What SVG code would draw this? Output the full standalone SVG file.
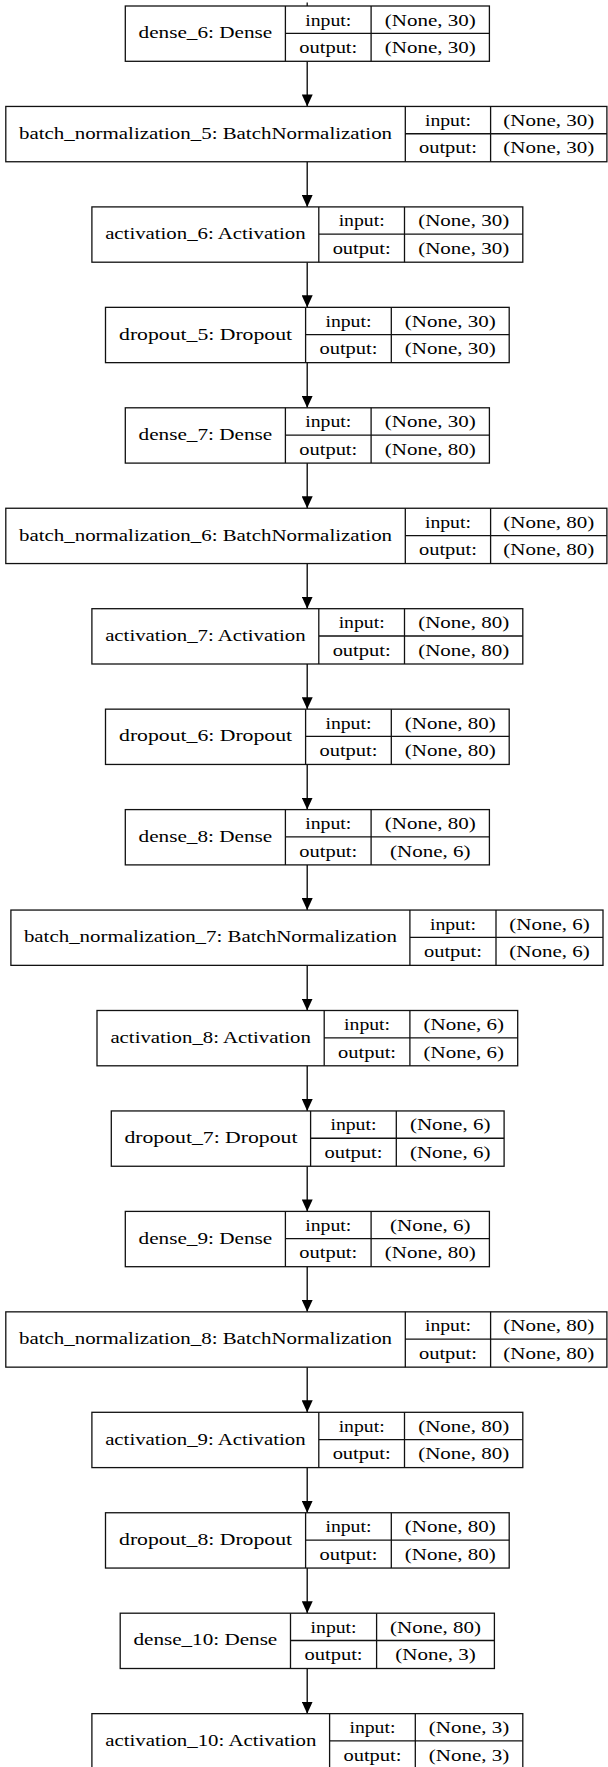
<svg xmlns="http://www.w3.org/2000/svg" width="608" height="1767" viewBox="0 0 608 1767">
<style>
.box{fill:#fff;stroke:#111;stroke-width:1.3}
.ln{stroke:#111;stroke-width:1.3;fill:none}
text{font-family:"Liberation Serif","Times New Roman",serif;font-size:16px;fill:#000;text-anchor:middle}
.edge{stroke:#000;stroke-width:1.3;fill:none;marker-end:url(#arr)}
</style>
<defs>
<marker id="arr" viewBox="0 0 12 11" refX="12" refY="5.5" markerWidth="12" markerHeight="11" markerUnits="userSpaceOnUse" orient="auto">
<path d="M0,0 L12,5.5 L0,11 z" fill="#000"/>
</marker>
</defs>
<rect width="608" height="1767" fill="#fff"/>
<g id="edges">
<line class="ln" x1="307.2" y1="2.5" x2="307.2" y2="6"/>
<line class="edge" x1="307.2" y1="61.3" x2="307.2" y2="106.45"/>
<line class="edge" x1="307.2" y1="161.75" x2="307.2" y2="206.9"/>
<line class="edge" x1="307.2" y1="262.2" x2="307.2" y2="307.35"/>
<line class="edge" x1="307.2" y1="362.65" x2="307.2" y2="407.8"/>
<line class="edge" x1="307.2" y1="463.1" x2="307.2" y2="508.25"/>
<line class="edge" x1="307.2" y1="563.55" x2="307.2" y2="608.7"/>
<line class="edge" x1="307.2" y1="664" x2="307.2" y2="709.15"/>
<line class="edge" x1="307.2" y1="764.45" x2="307.2" y2="809.6"/>
<line class="edge" x1="307.2" y1="864.9" x2="307.2" y2="910.05"/>
<line class="edge" x1="307.2" y1="965.35" x2="307.2" y2="1010.5"/>
<line class="edge" x1="307.2" y1="1065.8" x2="307.2" y2="1110.95"/>
<line class="edge" x1="307.2" y1="1166.25" x2="307.2" y2="1211.4"/>
<line class="edge" x1="307.2" y1="1266.7" x2="307.2" y2="1311.85"/>
<line class="edge" x1="307.2" y1="1367.15" x2="307.2" y2="1412.3"/>
<line class="edge" x1="307.2" y1="1467.6" x2="307.2" y2="1512.75"/>
<line class="edge" x1="307.2" y1="1568.05" x2="307.2" y2="1613.2"/>
<line class="edge" x1="307.2" y1="1668.5" x2="307.2" y2="1713.65"/>
</g>

<g id="dense_6" transform="translate(0,6)">
<rect class="box" x="125.3" y="0" width="364.1" height="55.3"/>
<path class="ln" d="M285.4,0V55.3M371.1,0V55.3M285.4,27.3H489.4"/>
<text x="205.35" y="32.3" textLength="133.6" lengthAdjust="spacingAndGlyphs">dense_6: Dense</text>
<text x="328.25" y="19.5" textLength="46" lengthAdjust="spacingAndGlyphs">input:</text>
<text x="328.25" y="47" textLength="58" lengthAdjust="spacingAndGlyphs">output:</text>
<text x="430.25" y="19.5" textLength="91" lengthAdjust="spacingAndGlyphs">(None, 30)</text>
<text x="430.25" y="47" textLength="91" lengthAdjust="spacingAndGlyphs">(None, 30)</text>
</g>

<g id="batch_normalization_5" transform="translate(0,106.45)">
<rect class="box" x="5.8" y="0" width="601.1" height="55.3"/>
<path class="ln" d="M405.3,0V55.3M490.6,0V55.3M405.3,27.3H606.9"/>
<text x="205.55" y="32.3" textLength="373" lengthAdjust="spacingAndGlyphs">batch_normalization_5: BatchNormalization</text>
<text x="447.95" y="19.5" textLength="46" lengthAdjust="spacingAndGlyphs">input:</text>
<text x="447.95" y="47" textLength="58" lengthAdjust="spacingAndGlyphs">output:</text>
<text x="548.75" y="19.5" textLength="91" lengthAdjust="spacingAndGlyphs">(None, 30)</text>
<text x="548.75" y="47" textLength="91" lengthAdjust="spacingAndGlyphs">(None, 30)</text>
</g>

<g id="activation_6" transform="translate(0,206.9)">
<rect class="box" x="91.9" y="0" width="430.9" height="55.3"/>
<path class="ln" d="M318.8,0V55.3M404.5,0V55.3M318.8,27.3H522.8"/>
<text x="205.35" y="32.3" textLength="200.4" lengthAdjust="spacingAndGlyphs">activation_6: Activation</text>
<text x="361.65" y="19.5" textLength="46" lengthAdjust="spacingAndGlyphs">input:</text>
<text x="361.65" y="47" textLength="58" lengthAdjust="spacingAndGlyphs">output:</text>
<text x="463.65" y="19.5" textLength="91" lengthAdjust="spacingAndGlyphs">(None, 30)</text>
<text x="463.65" y="47" textLength="91" lengthAdjust="spacingAndGlyphs">(None, 30)</text>
</g>

<g id="dropout_5" transform="translate(0,307.35)">
<rect class="box" x="105.5" y="0" width="403.7" height="55.3"/>
<path class="ln" d="M305.6,0V55.3M391.3,0V55.3M305.6,27.3H509.2"/>
<text x="205.55" y="32.3" textLength="173" lengthAdjust="spacingAndGlyphs">dropout_5: Dropout</text>
<text x="348.45" y="19.5" textLength="46" lengthAdjust="spacingAndGlyphs">input:</text>
<text x="348.45" y="47" textLength="58" lengthAdjust="spacingAndGlyphs">output:</text>
<text x="450.25" y="19.5" textLength="91" lengthAdjust="spacingAndGlyphs">(None, 30)</text>
<text x="450.25" y="47" textLength="91" lengthAdjust="spacingAndGlyphs">(None, 30)</text>
</g>

<g id="dense_7" transform="translate(0,407.8)">
<rect class="box" x="125.3" y="0" width="364.1" height="55.3"/>
<path class="ln" d="M285.4,0V55.3M371.1,0V55.3M285.4,27.3H489.4"/>
<text x="205.35" y="32.3" textLength="133.6" lengthAdjust="spacingAndGlyphs">dense_7: Dense</text>
<text x="328.25" y="19.5" textLength="46" lengthAdjust="spacingAndGlyphs">input:</text>
<text x="328.25" y="47" textLength="58" lengthAdjust="spacingAndGlyphs">output:</text>
<text x="430.25" y="19.5" textLength="91" lengthAdjust="spacingAndGlyphs">(None, 30)</text>
<text x="430.25" y="47" textLength="91" lengthAdjust="spacingAndGlyphs">(None, 80)</text>
</g>

<g id="batch_normalization_6" transform="translate(0,508.25)">
<rect class="box" x="5.8" y="0" width="601.1" height="55.3"/>
<path class="ln" d="M405.3,0V55.3M490.6,0V55.3M405.3,27.3H606.9"/>
<text x="205.55" y="32.3" textLength="373" lengthAdjust="spacingAndGlyphs">batch_normalization_6: BatchNormalization</text>
<text x="447.95" y="19.5" textLength="46" lengthAdjust="spacingAndGlyphs">input:</text>
<text x="447.95" y="47" textLength="58" lengthAdjust="spacingAndGlyphs">output:</text>
<text x="548.75" y="19.5" textLength="91" lengthAdjust="spacingAndGlyphs">(None, 80)</text>
<text x="548.75" y="47" textLength="91" lengthAdjust="spacingAndGlyphs">(None, 80)</text>
</g>

<g id="activation_7" transform="translate(0,608.7)">
<rect class="box" x="91.9" y="0" width="430.9" height="55.3"/>
<path class="ln" d="M318.8,0V55.3M404.5,0V55.3M318.8,27.3H522.8"/>
<text x="205.35" y="32.3" textLength="200.4" lengthAdjust="spacingAndGlyphs">activation_7: Activation</text>
<text x="361.65" y="19.5" textLength="46" lengthAdjust="spacingAndGlyphs">input:</text>
<text x="361.65" y="47" textLength="58" lengthAdjust="spacingAndGlyphs">output:</text>
<text x="463.65" y="19.5" textLength="91" lengthAdjust="spacingAndGlyphs">(None, 80)</text>
<text x="463.65" y="47" textLength="91" lengthAdjust="spacingAndGlyphs">(None, 80)</text>
</g>

<g id="dropout_6" transform="translate(0,709.15)">
<rect class="box" x="105.5" y="0" width="403.7" height="55.3"/>
<path class="ln" d="M305.6,0V55.3M391.3,0V55.3M305.6,27.3H509.2"/>
<text x="205.55" y="32.3" textLength="173" lengthAdjust="spacingAndGlyphs">dropout_6: Dropout</text>
<text x="348.45" y="19.5" textLength="46" lengthAdjust="spacingAndGlyphs">input:</text>
<text x="348.45" y="47" textLength="58" lengthAdjust="spacingAndGlyphs">output:</text>
<text x="450.25" y="19.5" textLength="91" lengthAdjust="spacingAndGlyphs">(None, 80)</text>
<text x="450.25" y="47" textLength="91" lengthAdjust="spacingAndGlyphs">(None, 80)</text>
</g>

<g id="dense_8" transform="translate(0,809.6)">
<rect class="box" x="125.3" y="0" width="364.1" height="55.3"/>
<path class="ln" d="M285.4,0V55.3M371.1,0V55.3M285.4,27.3H489.4"/>
<text x="205.35" y="32.3" textLength="133.6" lengthAdjust="spacingAndGlyphs">dense_8: Dense</text>
<text x="328.25" y="19.5" textLength="46" lengthAdjust="spacingAndGlyphs">input:</text>
<text x="328.25" y="47" textLength="58" lengthAdjust="spacingAndGlyphs">output:</text>
<text x="430.25" y="19.5" textLength="91" lengthAdjust="spacingAndGlyphs">(None, 80)</text>
<text x="430.25" y="47" textLength="80.5" lengthAdjust="spacingAndGlyphs">(None, 6)</text>
</g>

<g id="batch_normalization_7" transform="translate(0,910.05)">
<rect class="box" x="10.9" y="0" width="592.1" height="55.3"/>
<path class="ln" d="M409.9,0V55.3M496,0V55.3M409.9,27.3H603"/>
<text x="210.4" y="32.3" textLength="373" lengthAdjust="spacingAndGlyphs">batch_normalization_7: BatchNormalization</text>
<text x="452.95" y="19.5" textLength="46" lengthAdjust="spacingAndGlyphs">input:</text>
<text x="452.95" y="47" textLength="58" lengthAdjust="spacingAndGlyphs">output:</text>
<text x="549.5" y="19.5" textLength="80.5" lengthAdjust="spacingAndGlyphs">(None, 6)</text>
<text x="549.5" y="47" textLength="80.5" lengthAdjust="spacingAndGlyphs">(None, 6)</text>
</g>

<g id="activation_8" transform="translate(0,1010.5)">
<rect class="box" x="97" y="0" width="420.7" height="55.3"/>
<path class="ln" d="M324.2,0V55.3M409.9,0V55.3M324.2,27.3H517.7"/>
<text x="210.6" y="32.3" textLength="200.4" lengthAdjust="spacingAndGlyphs">activation_8: Activation</text>
<text x="367.05" y="19.5" textLength="46" lengthAdjust="spacingAndGlyphs">input:</text>
<text x="367.05" y="47" textLength="58" lengthAdjust="spacingAndGlyphs">output:</text>
<text x="463.8" y="19.5" textLength="80.5" lengthAdjust="spacingAndGlyphs">(None, 6)</text>
<text x="463.8" y="47" textLength="80.5" lengthAdjust="spacingAndGlyphs">(None, 6)</text>
</g>

<g id="dropout_7" transform="translate(0,1110.95)">
<rect class="box" x="111.3" y="0" width="392.8" height="55.3"/>
<path class="ln" d="M310.6,0V55.3M396.3,0V55.3M310.6,27.3H504.1"/>
<text x="210.95" y="32.3" textLength="173" lengthAdjust="spacingAndGlyphs">dropout_7: Dropout</text>
<text x="353.45" y="19.5" textLength="46" lengthAdjust="spacingAndGlyphs">input:</text>
<text x="353.45" y="47" textLength="58" lengthAdjust="spacingAndGlyphs">output:</text>
<text x="450.2" y="19.5" textLength="80.5" lengthAdjust="spacingAndGlyphs">(None, 6)</text>
<text x="450.2" y="47" textLength="80.5" lengthAdjust="spacingAndGlyphs">(None, 6)</text>
</g>

<g id="dense_9" transform="translate(0,1211.4)">
<rect class="box" x="125.3" y="0" width="364.1" height="55.3"/>
<path class="ln" d="M285.4,0V55.3M371.1,0V55.3M285.4,27.3H489.4"/>
<text x="205.35" y="32.3" textLength="133.6" lengthAdjust="spacingAndGlyphs">dense_9: Dense</text>
<text x="328.25" y="19.5" textLength="46" lengthAdjust="spacingAndGlyphs">input:</text>
<text x="328.25" y="47" textLength="58" lengthAdjust="spacingAndGlyphs">output:</text>
<text x="430.25" y="19.5" textLength="80.5" lengthAdjust="spacingAndGlyphs">(None, 6)</text>
<text x="430.25" y="47" textLength="91" lengthAdjust="spacingAndGlyphs">(None, 80)</text>
</g>

<g id="batch_normalization_8" transform="translate(0,1311.85)">
<rect class="box" x="5.8" y="0" width="601.1" height="55.3"/>
<path class="ln" d="M405.3,0V55.3M490.6,0V55.3M405.3,27.3H606.9"/>
<text x="205.55" y="32.3" textLength="373" lengthAdjust="spacingAndGlyphs">batch_normalization_8: BatchNormalization</text>
<text x="447.95" y="19.5" textLength="46" lengthAdjust="spacingAndGlyphs">input:</text>
<text x="447.95" y="47" textLength="58" lengthAdjust="spacingAndGlyphs">output:</text>
<text x="548.75" y="19.5" textLength="91" lengthAdjust="spacingAndGlyphs">(None, 80)</text>
<text x="548.75" y="47" textLength="91" lengthAdjust="spacingAndGlyphs">(None, 80)</text>
</g>

<g id="activation_9" transform="translate(0,1412.3)">
<rect class="box" x="91.9" y="0" width="430.9" height="55.3"/>
<path class="ln" d="M318.8,0V55.3M404.5,0V55.3M318.8,27.3H522.8"/>
<text x="205.35" y="32.3" textLength="200.4" lengthAdjust="spacingAndGlyphs">activation_9: Activation</text>
<text x="361.65" y="19.5" textLength="46" lengthAdjust="spacingAndGlyphs">input:</text>
<text x="361.65" y="47" textLength="58" lengthAdjust="spacingAndGlyphs">output:</text>
<text x="463.65" y="19.5" textLength="91" lengthAdjust="spacingAndGlyphs">(None, 80)</text>
<text x="463.65" y="47" textLength="91" lengthAdjust="spacingAndGlyphs">(None, 80)</text>
</g>

<g id="dropout_8" transform="translate(0,1512.75)">
<rect class="box" x="105.5" y="0" width="403.7" height="55.3"/>
<path class="ln" d="M305.6,0V55.3M391.3,0V55.3M305.6,27.3H509.2"/>
<text x="205.55" y="32.3" textLength="173" lengthAdjust="spacingAndGlyphs">dropout_8: Dropout</text>
<text x="348.45" y="19.5" textLength="46" lengthAdjust="spacingAndGlyphs">input:</text>
<text x="348.45" y="47" textLength="58" lengthAdjust="spacingAndGlyphs">output:</text>
<text x="450.25" y="19.5" textLength="91" lengthAdjust="spacingAndGlyphs">(None, 80)</text>
<text x="450.25" y="47" textLength="91" lengthAdjust="spacingAndGlyphs">(None, 80)</text>
</g>

<g id="dense_10" transform="translate(0,1613.2)">
<rect class="box" x="120.2" y="0" width="374.2" height="55.3"/>
<path class="ln" d="M290.5,0V55.3M376.6,0V55.3M290.5,27.3H494.4"/>
<text x="205.35" y="32.3" textLength="143.8" lengthAdjust="spacingAndGlyphs">dense_10: Dense</text>
<text x="333.55" y="19.5" textLength="46" lengthAdjust="spacingAndGlyphs">input:</text>
<text x="333.55" y="47" textLength="58" lengthAdjust="spacingAndGlyphs">output:</text>
<text x="435.5" y="19.5" textLength="91" lengthAdjust="spacingAndGlyphs">(None, 80)</text>
<text x="435.5" y="47" textLength="80.5" lengthAdjust="spacingAndGlyphs">(None, 3)</text>
</g>

<g id="activation_10" transform="translate(0,1713.65)">
<rect class="box" x="91.9" y="0" width="430.9" height="55.3"/>
<path class="ln" d="M329.6,0V55.3M415.3,0V55.3M329.6,27.3H522.8"/>
<text x="210.75" y="32.3" textLength="211.2" lengthAdjust="spacingAndGlyphs">activation_10: Activation</text>
<text x="372.45" y="19.5" textLength="46" lengthAdjust="spacingAndGlyphs">input:</text>
<text x="372.45" y="47" textLength="58" lengthAdjust="spacingAndGlyphs">output:</text>
<text x="469.05" y="19.5" textLength="80.5" lengthAdjust="spacingAndGlyphs">(None, 3)</text>
<text x="469.05" y="47" textLength="80.5" lengthAdjust="spacingAndGlyphs">(None, 3)</text>
</g>
</svg>
